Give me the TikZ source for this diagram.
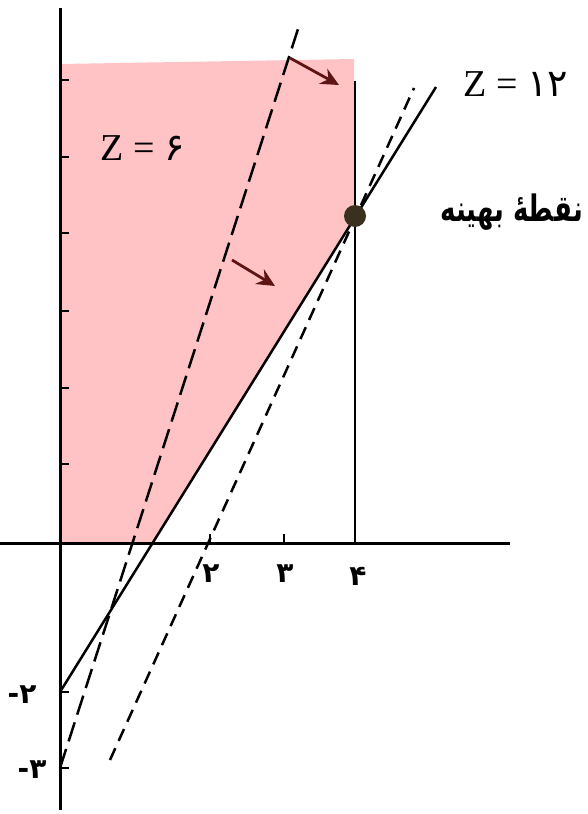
\documentclass[tikz,border=0pt]{standalone}
\usepackage{fontspec}
\setmainfont{Liberation Serif}
\newfontfamily\arabicfont[Script=Arabic]{DejaVu Sans}
\newfontfamily\digitfont{DejaVu Sans}
\TeXXeTstate=1
\usetikzlibrary{arrows.meta}
\definecolor{regionpink}{RGB}{255,195,197}
\definecolor{arrowred}{RGB}{95,20,20}
\definecolor{dotcol}{RGB}{58,48,32}
\begin{document}
\begin{tikzpicture}[x=1pt,y=-1pt,
  axis/.style={line width=3pt},
  tickmark/.style={line width=2.4pt},
  cons/.style={line width=2.5pt},
  longdash/.style={line width=2.5pt, dash pattern=on 20pt off 8pt},
  shortdash/.style={line width=2.5pt, dash pattern=on 13pt off 8pt},
  dir/.style={line width=2.8pt, draw=arrowred, -{Stealth[length=18pt,width=17pt,inset=6pt,fill=arrowred]}},
  zlbl/.style={inner sep=0pt, font=\fontsize{38}{40}\selectfont},
  ticklbl/.style={inner sep=0pt, font=\digitfont\bfseries\fontsize{28}{30}\selectfont}]
\useasboundingbox (0,0) rectangle (587,814);
% feasible region
\fill[regionpink] (60,64) -- (354,59) -- (354,218) -- (152.6,543) -- (60,543) -- cycle;
% axes
\coordinate (xl) at (0,543);
\coordinate (xr) at (510,543);
\coordinate (yt) at (60,8);
\coordinate (yb) at (60,810);
\draw[axis] (xl) -- (xr);
\draw[axis] (yt) -- (yb);
\foreach \y in {80,157,233,311,388,464,692,768}
  \draw[tickmark] (60,\y) -- (69,\y);
\foreach \x in {210,284}
  \draw[tickmark] (\x,543) -- (\x,534);
% constraint lines
\coordinate (vt) at (355,81);
\coordinate (vb) at (355,543);
\draw[cons] (vt) -- (vb);
\coordinate (sA) at (60,692);
\coordinate (sB) at (436,87);
\draw[cons] (sA) -- (sB);
% objective lines
\coordinate (lA) at (60,768);
\coordinate (lB) at (298,29);
\draw[longdash] (lA) -- (lB);
\coordinate (dA) at (110,760);
\coordinate (dB) at (414,88);
\draw[shortdash] (dA) -- (dB);
% direction arrows
\coordinate (a1s) at (290,58);
\coordinate (a1e) at (339,85);
\draw[dir] (a1s) -- (a1e);
\coordinate (a2s) at (232,260);
\coordinate (a2e) at (275,286);
\draw[dir] (a2s) -- (a2e);
% optimum
\node[circle, fill=dotcol, minimum size=22pt, inner sep=0pt] (opt) at (355,216) {};
% labels
\node[zlbl] (z12) at (516,84) {Z = {\digitfont ۱۲}};
\node[zlbl] (z6) at (143,148) {Z = {\digitfont ۶}};
\node[inner sep=0pt, anchor=east, font=\arabicfont\bfseries\fontsize{26}{30}\selectfont] (optlbl) at (583,212) {\scalebox{1}[1.4]{\beginR نقطهٔ بهینه\endR}};
\node[ticklbl] (t2) at (211,574) {۲};
\node[ticklbl] (t3) at (285,574) {۳};
\node[ticklbl] (t4) at (358,576) {۴};
\node[ticklbl] (tm2) at (22,695) {-۲};
\node[ticklbl] (tm3) at (32,770) {-۳};
\end{tikzpicture}
\end{document}
